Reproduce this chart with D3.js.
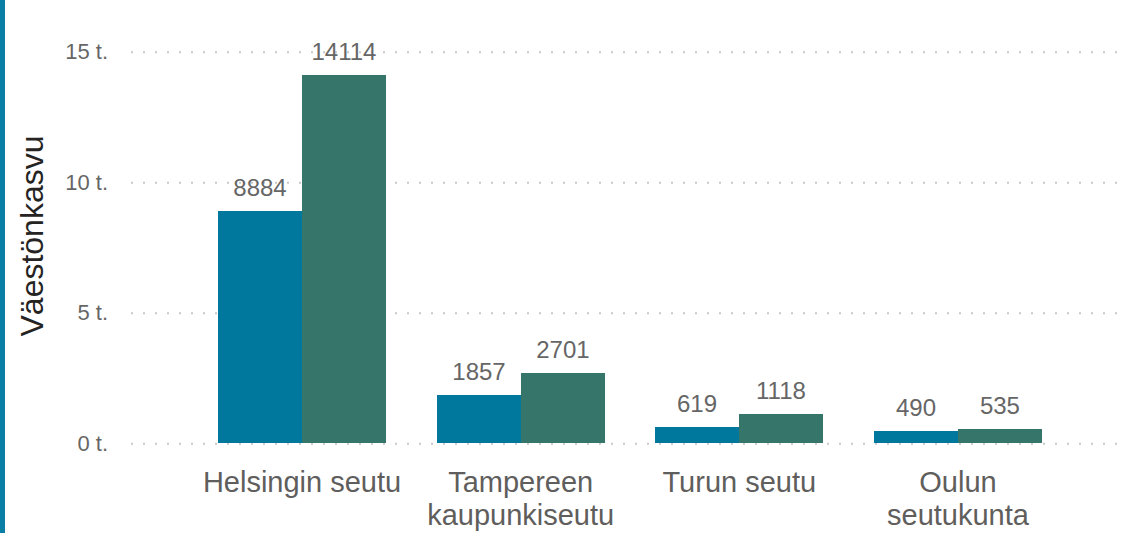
<!DOCTYPE html>
<html>
<head>
<meta charset="utf-8">
<script src="https://cdn.jsdelivr.net/npm/d3@7"></script>
<style>
  body { margin: 0; background: #fff; }
  svg { display: block; font-family: "Liberation Sans", Arial, sans-serif; }
</style>
</head>
<body>
<div id="chart"></div>
<script>
// data
var categories = ['Helsingin seutu', 'Tampereen kaupunkiseutu', 'Turun seutu', 'Oulun seutukunta'];
var series_a = [8884, 1857, 619, 490];
var series_b = [14114, 2701, 1118, 535];
var y_ticks = [0, 5000, 10000, 15000];
var series_colors = ['#00779c', '#36766a'];

var chart_width = 1130;
var chart_height = 533;

var svg = d3
  .select('#chart')
  .append('svg')
  .attr('width', chart_width)
  .attr('height', chart_height);

// left accent stripe
svg.append('rect')
  .attr('x', 0).attr('y', 0)
  .attr('width', 5).attr('height', chart_height)
  .attr('fill', '#0a7ea4');

var plot_left = 131;
var plot_right = 1127;
var y_scale = d3.scaleLinear()
  .domain([0, 15000])
  .range([443.3, 51.7]);

var x_scale = d3.scaleBand()
  .domain(d3.range(categories.length))
  .range([192.7, 1067.3])
  .paddingInner(0.232)
  .paddingOuter(0.116);

var x_inner = d3.scaleBand()
  .domain([0, 1])
  .range([0, x_scale.bandwidth()]);

// y axis with dotted gridlines
var y_axis = d3.axisLeft(y_scale)
  .tickValues(y_ticks)
  .tickSize(-(plot_right - plot_left))
  .tickPadding(23)
  .tickFormat(function(d) { return d / 1000 + ' t.'; });

var gy = svg.append('g')
  .attr('transform', 'translate(' + plot_left + ',0)')
  .call(y_axis);
gy.select('.domain').remove();
gy.selectAll('.tick line')
  .attr('stroke', '#c8c8c8')
  .attr('stroke-width', 2)
  .attr('stroke-dasharray', '2,10');
gy.selectAll('.tick text')
  .attr('fill', '#666666')
  .style('font-size', '22px')
  .style('font-family', '"Liberation Sans", Arial, sans-serif');

// y title
svg.append('text')
  .attr('transform', 'translate(43,236) rotate(-90)')
  .attr('text-anchor', 'middle')
  .attr('fill', '#252423')
  .style('font-size', '32px')
  .text('Väestönkasvu');

// bars
var rows = categories.map(function(c, i) {
  return { i: i, values: [series_a[i], series_b[i]] };
});

var groups = svg.selectAll('g.group')
  .data(rows)
  .enter()
  .append('g')
  .attr('class', 'group')
  .attr('transform', function(d) { return 'translate(' + Math.round(x_scale(d.i)) + ',0)'; });

groups.selectAll('rect')
  .data(function(d) { return d.values; })
  .enter()
  .append('rect')
  .attr('x', function(d, j) { return Math.round(x_inner(j)); })
  .attr('y', function(d) { return y_scale(d); })
  .attr('width', Math.round(x_inner.bandwidth()))
  .attr('height', function(d) { return y_scale(0) - y_scale(d); })
  .attr('fill', function(d, j) { return series_colors[j]; })
  .attr('shape-rendering', 'crispEdges');

groups.selectAll('text.value')
  .data(function(d) { return d.values; })
  .enter()
  .append('text')
  .attr('class', 'value')
  .attr('x', function(d, j) { return x_inner(j) + x_inner.bandwidth() / 2; })
  .attr('y', function(d) { return y_scale(d) - 15; })
  .attr('text-anchor', 'middle')
  .attr('fill', '#666666')
  .style('font-size', '24px')
  .text(function(d) { return d; });

// category labels, wrapped to the band step
var cat = svg.selectAll('text.cat')
  .data(categories)
  .enter()
  .append('text')
  .attr('class', 'cat')
  .attr('text-anchor', 'middle')
  .attr('fill', '#605e5c')
  .style('font-size', '29px')
  .attr('y', 492);

cat.each(function(d, i) {
  var el = d3.select(this);
  var cx = x_scale(i) + x_scale.bandwidth() / 2;
  var words = d.split(' ');
  var line = [];
  var lines = [];
  var probe = el.append('tspan');
  words.forEach(function(w) {
    var test = line.concat([w]).join(' ');
    probe.text(test);
    if (probe.node().getComputedTextLength() > x_scale.step() - 6 && line.length) {
      lines.push(line.join(' '));
      line = [w];
    } else {
      line.push(w);
    }
  });
  lines.push(line.join(' '));
  probe.remove();
  lines.forEach(function(l, k) {
    el.append('tspan')
      .attr('x', cx)
      .attr('y', 492 + k * 33.3)
      .text(l);
  });
});
</script>
</body>
</html>
